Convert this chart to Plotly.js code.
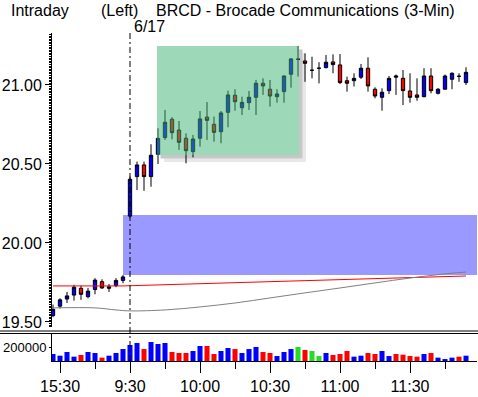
<!DOCTYPE html>
<html><head><meta charset="utf-8">
<script src="https://cdn.plot.ly/plotly-3.0.1.min.js"></script>
<style>html,body{margin:0;padding:0;background:#fff;}#chart{width:478px;height:397px;}</style>
</head><body><div id="chart"></div>
<script>
// ---- data ----
const times = ['15:27','15:30','15:33','15:36','15:39','15:42','15:45','15:48','15:51','15:54','15:57',
 '9:30','9:33','9:36','9:39','9:42','9:45','9:48','9:51','9:54','9:57',
 '10:00','10:03','10:06','10:09','10:12','10:15','10:18','10:21','10:24','10:27',
 '10:30','10:33','10:36','10:39','10:42','10:45','10:48','10:51','10:54','10:57',
 '11:00','11:03','11:06','11:09','11:12','11:15','11:18','11:21','11:24','11:27',
 '11:30','11:33','11:36','11:39','11:42','11:45','11:48','11:51','11:54'];
const openP = [19.54,19.60,19.645,19.67,19.713,19.66,19.705,19.755,19.713,19.73,19.763,
 20.17,20.42,20.494,20.42,20.561,20.667,20.783,20.715,20.663,20.578,
 20.663,20.797,20.751,20.704,20.827,20.935,20.856,20.888,20.922,21.011,
 20.973,20.926,20.958,21.068,21.163,21.152,21.093,21.106,21.11,21.146,
 21.127,21.027,21.027,21.049,21.106,20.973,20.922,20.964,21.049,21.042,
 20.962,20.937,20.926,21.057,20.947,20.973,21.036,21.055,21.015];
const closeP = [19.58,19.64,19.665,19.72,19.675,19.695,19.765,19.715,19.722,19.763,19.785,
 20.403,20.494,20.42,20.555,20.662,20.764,20.698,20.637,20.584,20.658,
 20.785,20.776,20.70,20.823,20.937,20.894,20.89,20.922,21.011,20.994,
 20.93,20.943,21.057,21.165,21.163,21.137,21.093,21.106,21.144,21.129,
 21.015,21.011,21.042,21.106,20.994,20.93,20.954,21.042,21.057,20.964,
 20.922,20.922,21.057,20.964,20.973,21.057,21.074,21.055,21.08];
const highP = [19.61,19.65,19.69,19.735,19.73,19.715,19.777,19.77,19.74,19.777,19.797,
 20.42,20.515,20.515,20.625,20.726,20.842,20.796,20.772,20.694,20.684,
 20.835,20.892,20.80,20.835,20.964,20.973,20.926,20.962,21.032,21.042,
 21.032,20.973,21.06,21.17,21.247,21.2,21.179,21.144,21.19,21.194,
 21.196,21.053,21.074,21.133,21.175,20.985,20.979,21.057,21.066,21.095,
 21.074,21.042,21.106,21.106,20.98,21.066,21.08,21.074,21.112];
const lowP = [19.53,19.585,19.62,19.635,19.64,19.65,19.675,19.71,19.69,19.72,19.745,
 20.16,20.335,20.33,20.356,20.50,20.652,20.656,20.589,20.504,20.542,
 20.61,20.652,20.641,20.631,20.732,20.837,20.81,20.842,20.81,20.937,
 20.863,20.888,20.888,20.983,21.053,21.02,21.042,21.01,21.105,21.074,
 21.006,20.958,20.99,21.038,20.958,20.916,20.837,20.943,20.937,20.873,
 20.888,20.90,20.922,20.947,20.94,20.973,20.973,21.02,21.0];
const volume = [100000,76000,129000,62000,86000,129000,114000,48000,76000,114000,171000,
 229000,257000,171000,271000,243000,257000,129000,114000,114000,143000,
 214000,214000,100000,143000,186000,171000,114000,171000,200000,129000,
 114000,71000,129000,171000,200000,157000,143000,71000,114000,86000,
 100000,143000,62000,76000,114000,100000,143000,71000,100000,90000,
 71000,62000,100000,114000,48000,28000,48000,62000,76000];
const volDir = ['u','u','u','u','d','u','u','d','u','u','u',
 'u','u','d','u','u','u','d','d','d','u',
 'u','d','d','u','u','d','u','u','u','d',
 'd','u','u','u','n','d','n','n','u','d',
 'd','d','u','u','d','d','u','u','d','d',
 'd','d','u','d','u','u','u','d','u'];
// reference lines
const redLineTimes = ['15:27','15:57','11:54'];
const redLineVals = [19.728,19.728,19.791];
const grayLineTimes = ['15:27','15:45','15:54','9:30','9:45','10:00','10:15','10:30','10:45','11:00','11:15','11:30','11:45','11:54'];
const grayLineVals = [19.589,19.589,19.576,19.570,19.576,19.595,19.620,19.652,19.684,19.715,19.747,19.778,19.804,19.816];
const majorTickLabels = ['15:30','9:30','10:00','10:30','11:00','11:30'];
const minorTickLabels = ['15:45','9:45','10:15','10:45','11:15','11:45'];
const priceTicks = [19.5,20.0,20.5,21.0];
const volTicks = [200000];

// ---- build ----
const idx = t => times.indexOf(t);
const xs = times.map((t,i)=>i);
const dirColor = {u:'#0000ff', d:'#ff0000', n:'#22dd22'};
const FONT = 'Liberation Sans Narrow, Liberation Sans, Arial, sans-serif';

const W=478,H=397,L=52,R=1,T=33,B=36;
const pw=W-L-R, ph=H-T-B;
const px = p => (p-L)/pw;
const py = p => (H-B-p)/ph;

const traces = [
 {type:'bar', x:xs, y:volume, xaxis:'x', yaxis:'y2', width:0.72,
  marker:{color:volDir.map(d=>dirColor[d]), line:{width:0}}, hoverinfo:'skip', showlegend:false},
 {type:'scatter', mode:'lines', x:redLineTimes.map(idx), y:redLineVals, xaxis:'x', yaxis:'y',
  line:{color:'#ff0000', width:1}, hoverinfo:'skip', showlegend:false},
 {type:'scatter', mode:'lines', x:grayLineTimes.map(idx), y:grayLineVals, xaxis:'x', yaxis:'y',
  line:{color:'#808080', width:1, shape:'spline'}, hoverinfo:'skip', showlegend:false},
 {type:'candlestick', x:xs, open:openP, high:highP, low:lowP, close:closeP, xaxis:'x', yaxis:'y',
  increasing:{line:{color:'#000000', width:1}, fillcolor:'#0000ff'},
  decreasing:{line:{color:'#000000', width:1}, fillcolor:'#ff0000'},
  whiskerwidth:0, hoverinfo:'skip', showlegend:false}
];

// green highlight box (data-space) and its drop shadow
const gb = {x0:14.857, x1:35.143, y0:20.557, y1:21.247};
const sdx = 0.5, sdy = 0.022;
function shadowStrips(k, alpha){
  return [
   {type:'rect', xref:'x', yref:'y', x0:gb.x1+sdx*(k-1), x1:gb.x1+sdx*k, y0:gb.y0-sdy*k, y1:gb.y1-sdy*k,
    fillcolor:'rgba(0,0,0,'+alpha+')', line:{width:0}, layer:'below'},
   {type:'rect', xref:'x', yref:'y', x0:gb.x0+sdx*k, x1:gb.x1+sdx*(k-1), y0:gb.y0-sdy*k, y1:gb.y0-sdy*(k-1),
    fillcolor:'rgba(0,0,0,'+alpha+')', line:{width:0}, layer:'below'}
  ];
}

const layout = {
 width:W, height:H, margin:{l:L,r:R,t:T,b:B,pad:0},
 paper_bgcolor:'#ffffff', plot_bgcolor:'rgba(0,0,0,0)',
 font:{family:FONT, size:15, color:'#000'},
 boxgap:0.32,
 showlegend:false,
 xaxis:{anchor:'y2', range:[-0.143, 60.571], showgrid:false, zeroline:false,
   showline:true, linecolor:'#000', linewidth:1,
   tickmode:'array', tickvals:majorTickLabels.map(idx), ticktext:majorTickLabels,
   ticks:'outside', ticklen:11, tickcolor:'#000', tickwidth:1,
   tickfont:{family:FONT, size:16, color:'#000'},
   minor:{tickmode:'array', tickvals:minorTickLabels.map(idx), ticks:'outside', ticklen:7, tickcolor:'#000', showgrid:false},
   rangeslider:{visible:false}, fixedrange:true},
 yaxis:{domain:[py(327),1], range:[19.468,21.329], showgrid:false, zeroline:false,
   showline:true, linecolor:'#000', linewidth:1,
   tickmode:'array', tickvals:priceTicks, ticktext:priceTicks.map(v=>v.toFixed(2)),
   ticks:'outside', ticklen:6, tickcolor:'#000',
   tickfont:{family:FONT, size:16, color:'#000'},
   minor:{dtick:0.01, tick0:0, ticks:'outside', ticklen:2, tickcolor:'#000', showgrid:false},
   fixedrange:true},
 yaxis2:{domain:[0,py(333)], range:[0,400000], showgrid:false, zeroline:false,
   showline:true, linecolor:'#000', linewidth:1,
   tickmode:'array', tickvals:volTicks, ticktext:volTicks.map(String),
   ticks:'outside', ticklen:2, tickcolor:'#000',
   tickfont:{family:FONT, size:13, color:'#000'}, fixedrange:true},
 shapes:[
  // gap box
  {type:'rect', xref:'x', yref:'y', x0:10, x1:61, y0:19.797, y1:20.177,
   fillcolor:'rgb(153,153,255)', line:{width:0}, layer:'below'},
  ...shadowStrips(1, 0.22),
  ...shadowStrips(2, 0.09),
  // green box
  {type:'rect', xref:'x', yref:'y', x0:gb.x0, x1:gb.x1, y0:gb.y0, y1:gb.y1,
   fillcolor:'rgb(60,180,115)', opacity:0.5, line:{width:0}, layer:'above'},
  // day divider
  {type:'line', xref:'x', yref:'paper', x0:idx('9:30'), x1:idx('9:30'), y0:0, y1:1,
   line:{color:'#000', width:1, dash:'6px,3px,2px,3px'}},
  // panel separator
  {type:'line', xref:'paper', yref:'paper', x0:px(0), x1:px(478), y0:py(331), y1:py(331),
   line:{color:'#000', width:1}},
  {type:'line', xref:'paper', yref:'paper', x0:px(0), x1:px(478), y0:py(333.5), y1:py(333.5),
   line:{color:'#000', width:1}}
 ],
 annotations:[
  {xref:'paper', yref:'paper', x:px(9), y:py(11), xanchor:'left', yanchor:'middle', text:'Intraday', showarrow:false, font:{family:FONT,size:16}},
  {xref:'paper', yref:'paper', x:px(99), y:py(11), xanchor:'left', yanchor:'middle', text:'(Left)', showarrow:false, font:{family:FONT,size:16}},
  {xref:'paper', yref:'paper', x:px(154), y:py(11), xanchor:'left', yanchor:'middle', text:'BRCD - Brocade Communications', showarrow:false, font:{family:FONT,size:16}},
  {xref:'paper', yref:'paper', x:px(402), y:py(11), xanchor:'left', yanchor:'middle', text:'(3-Min)', showarrow:false, font:{family:FONT,size:16}},
  {xref:'x', yref:'paper', x:idx('9:30')+0.3, y:py(26), xanchor:'left', yanchor:'middle', text:'6/17', showarrow:false, font:{family:FONT,size:16}}
 ]
};
Plotly.newPlot('chart', traces, layout, {staticPlot:true, displayModeBar:false});
</script></body></html>
